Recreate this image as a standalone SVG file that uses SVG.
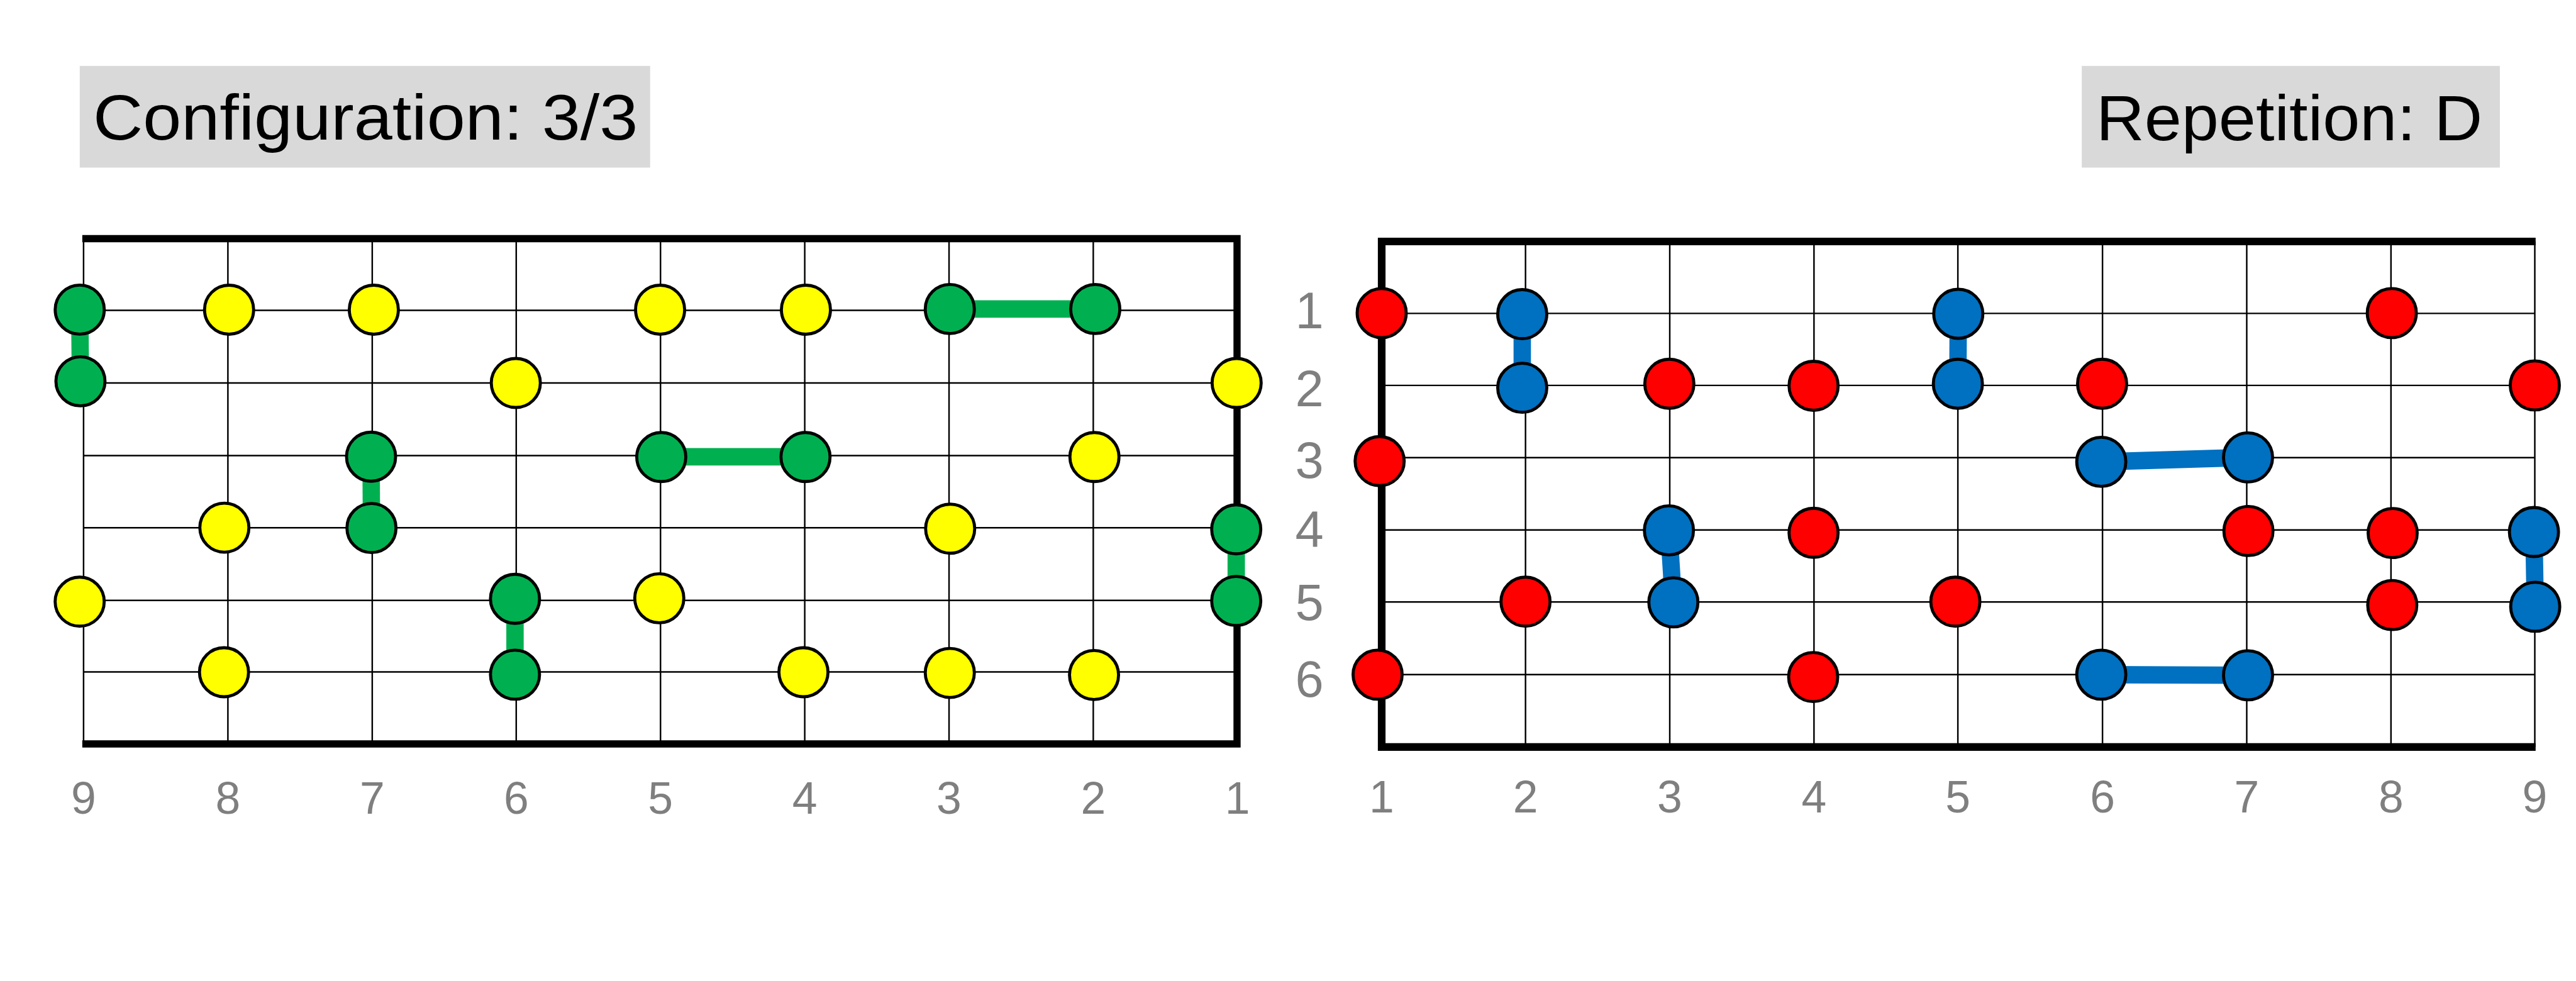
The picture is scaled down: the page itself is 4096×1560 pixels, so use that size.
<svg xmlns="http://www.w3.org/2000/svg" width="4096" height="1560" viewBox="0 0 4096 1560">
<style>
.bg{fill:#ffffff}
.title-box{fill:#d9d9d9}
.title{font-family:"Liberation Sans",Arial,sans-serif;font-size:126px;fill:#000000}
.lbl{font-family:"Liberation Sans",Arial,sans-serif;fill:#7f7f7f;text-anchor:middle}
.col{font-size:88px}
.row{font-size:100px}
.grid{stroke:#000000;stroke-width:3;fill:none}
.frame{stroke:#000000;stroke-width:14;fill:none;stroke-linejoin:miter}
.node{stroke:#000000;stroke-width:6}
.g{fill:#00b050}
.y{fill:#ffff00}
.r{fill:#ff0000}
.b{fill:#0070c0}
.cg{stroke:#00b050;stroke-width:34}
.cb{stroke:#0070c0;stroke-width:34}
</style>
<rect class="bg" x="0" y="0" width="4096" height="1560"/>
<g transform="scale(0.8127,0.8125)">
  <g id="title-left">
    <rect class="title-box" x="156" y="129" width="1116" height="199"/>
    <text class="title" x="182" y="273" textLength="1066" lengthAdjust="spacingAndGlyphs">Configuration: 3/3</text>
  </g>
  <g id="title-right">
    <rect class="title-box" x="4073" y="129" width="818" height="199"/>
    <text class="title" x="4101" y="274" textLength="756" lengthAdjust="spacingAndGlyphs">Repetition: D</text>
  </g>

  <!-- Left grid -->
  <g id="grid-left">
    <path class="grid" d="M163.5,467V1456M445.9,467V1456M728.3,467V1456M1010,467V1456M1292.3,467V1456M1574.5,467V1456M1856.8,467V1456M2139,467V1456"/>
    <path class="grid" d="M163.5,607.4H2421M163.5,749.6H2421M163.5,891.8H2421M163.5,1033H2421M163.5,1175H2421M163.5,1315H2421"/>
    <path class="frame" d="M161,467H2420.3V1456H161"/>
  </g>
  <g id="labels-left">
    <text class="lbl col" x="163.5" y="1593">9</text>
    <text class="lbl col" x="445.9" y="1593">8</text>
    <text class="lbl col" x="728.3" y="1593">7</text>
    <text class="lbl col" x="1010" y="1593">6</text>
    <text class="lbl col" x="1292.3" y="1593">5</text>
    <text class="lbl col" x="1574.5" y="1593">4</text>
    <text class="lbl col" x="1856.8" y="1593">3</text>
    <text class="lbl col" x="2139" y="1593">2</text>
    <text class="lbl col" x="2421" y="1593">1</text>
  </g>

  <!-- Right grid -->
  <g id="grid-right">
    <path class="grid" d="M2984.7,472.6V1462M3266.9,472.6V1462M3549.1,472.6V1462M3830.6,472.6V1462M4113.6,472.6V1462M4395.8,472.6V1462M4678,472.6V1462M4959.4,472.6V1462"/>
    <path class="grid" d="M2703,613.4H4959.4M2703,754.3H4959.4M2703,895.8H4959.4M2703,1037.3H4959.4M2703,1178.2H4959.4M2703,1320.4H4959.4"/>
    <path class="frame" d="M4961,472.6H2703.3V1462H4961" style="stroke-width:15"/>
  </g>
  <g id="labels-right">
    <text class="lbl row" x="2562" y="643">1</text>
    <text class="lbl row" x="2562" y="795">2</text>
    <text class="lbl row" x="2562" y="935">3</text>
    <text class="lbl row" x="2562" y="1071">4</text>
    <text class="lbl row" x="2562" y="1214">5</text>
    <text class="lbl row" x="2562" y="1364">6</text>
    <text class="lbl col" x="2703.3" y="1590">1</text>
    <text class="lbl col" x="2984.7" y="1590">2</text>
    <text class="lbl col" x="3266.9" y="1590">3</text>
    <text class="lbl col" x="3549.1" y="1590">4</text>
    <text class="lbl col" x="3830.6" y="1590">5</text>
    <text class="lbl col" x="4113.6" y="1590">6</text>
    <text class="lbl col" x="4395.8" y="1590">7</text>
    <text class="lbl col" x="4678" y="1590">8</text>
    <text class="lbl col" x="4959.4" y="1590">9</text>
  </g>

  <!-- Connectors -->
  <g id="connectors">
    <line class="cg" x1="156" y1="606" x2="157.4" y2="746.3"/>
    <line class="cg" x1="726" y1="893.8" x2="726.8" y2="1033.4"/>
    <line class="cg" x1="1007.6" y1="1172" x2="1007.6" y2="1320.4"/>
    <line class="cg" x1="1858.3" y1="604.8" x2="2142.9" y2="604.8"/>
    <line class="cg" x1="1293.8" y1="894" x2="1576" y2="894"/>
    <line class="cg" x1="2418.7" y1="1036" x2="2418.7" y2="1176.2"/>
    <line class="cb" x1="2978.3" y1="614.8" x2="2978.3" y2="758.9"/>
    <line class="cb" x1="3265.3" y1="1038" x2="3274" y2="1178.9"/>
    <line class="cb" x1="3831.4" y1="614.1" x2="3830.6" y2="751"/>
    <line class="cb" x1="4111.2" y1="903.8" x2="4398.3" y2="895.2"/>
    <line class="cb" x1="4111.2" y1="1320.4" x2="4398.3" y2="1321.7"/>
    <line class="cb" x1="4957.7" y1="1041.3" x2="4960.2" y2="1187.5"/>
  </g>

  <!-- Left nodes -->
  <g id="L-9-1"><circle class="node g" cx="156" cy="606" r="48"/></g>
  <g id="L-8-1"><circle class="node y" cx="448.2" cy="606.1" r="48"/></g>
  <g id="L-7-1"><circle class="node y" cx="731.4" cy="606.1" r="48"/></g>
  <g id="L-5-1"><circle class="node y" cx="1291.5" cy="606.1" r="48"/></g>
  <g id="L-4-1"><circle class="node y" cx="1576.8" cy="606.1" r="48"/></g>
  <g id="L-3-1"><circle class="node g" cx="1858.3" cy="604.8" r="48"/></g>
  <g id="L-2-1"><circle class="node g" cx="2142.9" cy="604.8" r="48"/></g>
  <g id="L-9-2"><circle class="node g" cx="157.4" cy="746.3" r="48"/></g>
  <g id="L-6-2"><circle class="node y" cx="1009.2" cy="749.6" r="48"/></g>
  <g id="L-1-2"><circle class="node y" cx="2419.5" cy="749.6" r="48"/></g>
  <g id="L-7-3"><circle class="node g" cx="726" cy="893.8" r="48"/></g>
  <g id="L-5-3"><circle class="node g" cx="1293.8" cy="894.5" r="48"/></g>
  <g id="L-4-3"><circle class="node g" cx="1576" cy="894.5" r="48"/></g>
  <g id="L-2-3"><circle class="node y" cx="2141.3" cy="894.5" r="48"/></g>
  <g id="L-8-4"><circle class="node y" cx="439" cy="1032.7" r="48"/></g>
  <g id="L-7-4"><circle class="node g" cx="726.8" cy="1033.4" r="48"/></g>
  <g id="L-3-4"><circle class="node y" cx="1859" cy="1034.7" r="48"/></g>
  <g id="L-1-4"><circle class="node g" cx="2418.7" cy="1036" r="48"/></g>
  <g id="L-9-5"><circle class="node y" cx="155.9" cy="1177.6" r="48"/></g>
  <g id="L-6-5"><circle class="node g" cx="1007.6" cy="1172" r="48"/></g>
  <g id="L-5-5"><circle class="node y" cx="1289.9" cy="1170.9" r="48"/></g>
  <g id="L-1-5"><circle class="node g" cx="2418.7" cy="1176.2" r="48"/></g>
  <g id="L-8-6"><circle class="node y" cx="438.3" cy="1315.7" r="48"/></g>
  <g id="L-6-6"><circle class="node g" cx="1007.6" cy="1320.4" r="48"/></g>
  <g id="L-4-6"><circle class="node y" cx="1572" cy="1315.7" r="48"/></g>
  <g id="L-3-6"><circle class="node y" cx="1858.3" cy="1317" r="48"/></g>
  <g id="L-2-6"><circle class="node y" cx="2140.5" cy="1321" r="48"/></g>

  <!-- Right nodes -->
  <g id="R-1-1"><circle class="node r" cx="2703.3" cy="612.8" r="48"/></g>
  <g id="R-2-1"><circle class="node b" cx="2978.3" cy="614.8" r="48"/></g>
  <g id="R-5-1"><circle class="node b" cx="3831.4" cy="614.1" r="48"/></g>
  <g id="R-8-1"><circle class="node r" cx="4679.6" cy="612.8" r="48"/></g>
  <g id="R-2-2"><circle class="node b" cx="2978.3" cy="758.9" r="48"/></g>
  <g id="R-3-2"><circle class="node r" cx="3266.1" cy="751" r="48"/></g>
  <g id="R-4-2"><circle class="node r" cx="3548.3" cy="755" r="48"/></g>
  <g id="R-5-2"><circle class="node b" cx="3830.6" cy="751" r="48"/></g>
  <g id="R-6-2"><circle class="node r" cx="4112.8" cy="751" r="48"/></g>
  <g id="R-9-2"><circle class="node r" cx="4959.4" cy="754.3" r="48"/></g>
  <g id="R-1-3"><circle class="node r" cx="2699.3" cy="902.5" r="48"/></g>
  <g id="R-6-3"><circle class="node b" cx="4111.2" cy="903.8" r="48"/></g>
  <g id="R-7-3"><circle class="node b" cx="4398.3" cy="895.2" r="48"/></g>
  <g id="R-3-4"><circle class="node b" cx="3265.3" cy="1038" r="48"/></g>
  <g id="R-4-4"><circle class="node r" cx="3548.3" cy="1042.7" r="48"/></g>
  <g id="R-7-4"><circle class="node r" cx="4399.1" cy="1039.3" r="48"/></g>
  <g id="R-8-4"><circle class="node r" cx="4681.3" cy="1043.3" r="48"/></g>
  <g id="R-9-4"><circle class="node b" cx="4957.7" cy="1041.3" r="48"/></g>
  <g id="R-2-5"><circle class="node r" cx="2984.7" cy="1177.6" r="48"/></g>
  <g id="R-3-5"><circle class="node b" cx="3274" cy="1178.9" r="48"/></g>
  <g id="R-5-5"><circle class="node r" cx="3825.7" cy="1177.6" r="48"/></g>
  <g id="R-8-5"><circle class="node r" cx="4680.5" cy="1184.2" r="48"/></g>
  <g id="R-9-5"><circle class="node b" cx="4960.2" cy="1187.5" r="48"/></g>
  <g id="R-1-6"><circle class="node r" cx="2695.3" cy="1320.4" r="48"/></g>
  <g id="R-4-6"><circle class="node r" cx="3547.5" cy="1325" r="48"/></g>
  <g id="R-6-6"><circle class="node b" cx="4111.2" cy="1320.4" r="48"/></g>
  <g id="R-7-6"><circle class="node b" cx="4398.3" cy="1321.7" r="48"/></g>
</g>
</svg>
